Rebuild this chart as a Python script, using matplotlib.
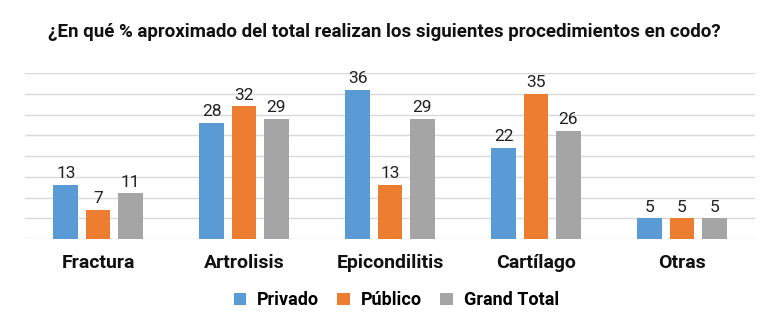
import matplotlib.pyplot as plt
import numpy as np

categories = ['Fractura', 'Artrolisis', 'Epicondilitis', 'Cartílago', 'Otras']
privado = [13, 28, 36, 22, 5]
publico = [7, 32, 13, 35, 5]
grand_total = [11, 29, 29, 26, 5]
series_names = ['Privado', 'Público', 'Grand Total']

plt.rcParams['font.family'] = ['Roboto', 'DejaVu Sans']

colors = ['#5B9BD5', '#ED7D31', '#A5A5A5']

fig = plt.figure(figsize=(7.68, 3.32), dpi=100)
ax = fig.add_axes([25 / 768, 0.28, 730 / 768, 0.50])

x = np.arange(len(categories))
w = 0.17
step = 0.22
for i, (vals, name) in enumerate(zip([privado, publico, grand_total], series_names)):
    bars = ax.bar(x + (i - 1) * step, vals, w, color=colors[i], label=name, zorder=3)
    for b, v in zip(bars, vals):
        ax.text(b.get_x() + b.get_width() / 2, v + 0.9, str(v),
                ha='center', va='bottom', fontsize=12.5, color='#222222')

ax.set_xlim(-0.5, len(categories) - 0.5)
ax.set_ylim(0, 40)
ax.set_yticks(range(0, 41, 5))
ax.yaxis.grid(True, color='#D9D9D9', linewidth=1, zorder=0)
ax.tick_params(axis='y', left=False, labelleft=False)
ax.tick_params(axis='x', bottom=False, pad=7)
ax.set_xticks(x)
ax.set_xticklabels(categories, fontsize=14, fontweight='semibold', color='#111111')
for s in ax.spines.values():
    s.set_visible(False)

fig.text(0.5, 0.905, '¿En qué % aproximado del total realizan los siguientes procedimientos en codo?',
         ha='center', va='center', fontsize=13.5, fontweight='semibold', color='#111111')

fig.legend(loc='center', bbox_to_anchor=(0.516, 0.095), ncol=3, frameon=False,
           prop={'size': 13, 'weight': 'semibold'}, handlelength=0.7, handleheight=0.7,
           columnspacing=1.0, handletextpad=0.6)

fig.savefig('out.png', dpi=100)
